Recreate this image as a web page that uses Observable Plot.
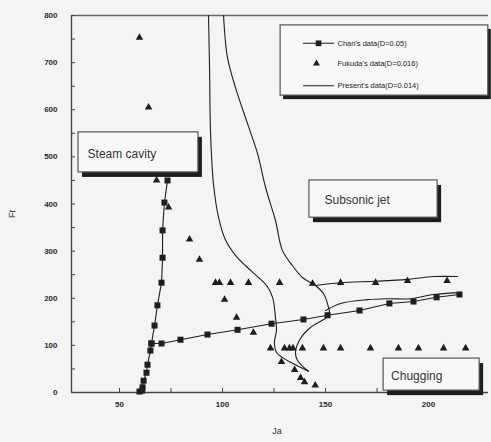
<!DOCTYPE html>
<html><head><meta charset="utf-8">
<script src="https://cdn.jsdelivr.net/npm/d3@7"></script>
<script src="https://cdn.jsdelivr.net/npm/@observablehq/plot@0.6"></script>
<style>
body{margin:0;background:#f4f4f4;}
</style></head><body><div id="chart"></div>
<script>
// Chan's data (D=0.05): vertical branch and horizontal branch [Ja, Fr]
const chenVertical = [[59.7,2],[61.0,4],[61.2,11],[61.7,25],[63.1,42],[63.6,59],[65.0,89],[65.5,104],[67.0,142],[68.4,185],[70.4,233],[70.9,286],[70.9,344],[71.8,403],[73.3,450]];
const chenHorizontal = [[65.5,104],[70.4,104],[79.6,112],[92.7,123],[107.3,133],[123.8,146],[139.3,155],[151,164],[166.5,174],[181,189],[192.7,193],[203.9,202],[215,208]];
// Fukuda's data (D=0.016) [Ja, Fr]
const fukuda = [[59.7,753],[64.1,605],[68,450],[73.8,393],[84,325],[88.8,282],
  [96.6,233],[98.5,233],[103.9,233],[112.6,233],[101,197],[106.8,159],[115,127],
  [127.7,233],[143.7,231],[157.3,233],[174.3,233],[189.8,237],[209,237],
  [123.3,94],[130.1,94],[132.5,94],[134.2,94],[138.8,94],[149,94],[157.3,94],[171.8,94],[185.4,94],[195.1,94],[207.3,94],[218,94],
  [128.6,65],[135,48],[137.9,31],[139.8,22],[145,15]];
// Present's data (D=0.014): boundary curves [Ja, Fr]
const presentA = [[93.2,800],[93.7,690],[94.2,550],[95.6,443],[98.1,371],[101.5,323],[106.3,291],[111.2,269],[117.0,246],[121.4,227],[124.3,202],[125.7,159],[126.2,132],[125.2,106],[126.2,85],[129.1,74],[134.0,62],[141.7,45]];
const presentB = [[100.5,800],[102.4,711],[106.3,647],[112.1,571],[117.0,507],[120.9,435],[125.7,365],[129.1,301],[134.0,269],[138.8,244],[145.1,227],[149.0,210],[151.5,180],[151.9,170],[151.0,161],[142.7,138],[137.9,115],[135.4,85],[136.4,68],[141.7,45]];
const presentC = [[145.1,227],[157.3,233],[174.3,236],[189.8,240],[202.4,246],[214.1,246]];
const presentD = [[150.0,174],[157.3,189],[170.4,197],[180.1,199],[191.3,199],[202.4,208],[214.1,212]];
// ticks
const yTickLabels = [0,100,200,300,400,500,600,700,800];
const yMinorTicks = d3.range(0, 801, 50);
const xTickLabels = [50,100,150,200];
const xMinorTicks = [50,75,100,125,150,175,200,225];
// region annotations
const regions = [
  {label:"Steam cavity", x1:30.1, x2:88.3, y1:467, y2:552, tx:34.5, ty:505},
  {label:"Subsonic jet", x1:142.2, x2:204.4, y1:371, y2:450, tx:149.5, ty:409},
  {label:"Chugging", x1:178.2, x2:224.8, y1:4, y2:72, tx:181.8, ty:34}
];
// legend
const legendLabels = ["Chan's data(D=0.05)", "Fukuda's data(D=0.016)", "Present's data(D=0.014)"];
const legendBox = {x1:128.2, x2:229, y1:630, y2:779};
const legendRows = [741, 698, 651];

const ink = "#1e1e1e";
const toXY = a => a.map(([x,y]) => ({x,y}));

const chart = Plot.plot({
  width: 491, height: 442,
  marginLeft: 71, marginRight: 3, marginTop: 15, marginBottom: 50,
  style: {background: "#f4f4f4", fontFamily: "'Liberation Sans', Arial, sans-serif", color: ink},
  x: {domain: [26.7, 229.1], label: null},
  y: {domain: [0, 800], label: null},
  marks: [
    Plot.ruleY([800], {stroke: "#666", strokeWidth: 1.6}),
    Plot.ruleY([0], {stroke: "#444", strokeWidth: 1.4}),
    Plot.ruleX([26.7], {stroke: "#444", strokeWidth: 1.4}),
    // inward ticks: outward ticks shifted inside
    Plot.axisY({ticks: yMinorTicks, tickSize: 4, dx: 4, tickFormat: () => "", stroke: "#444"}),
    Plot.axisY({ticks: yTickLabels, tickSize: 0, tickPadding: 14, fontSize: 8, fill: "#2a2a2a", fontWeight: "bold"}),
    Plot.axisX({ticks: xMinorTicks, tickSize: 4, dy: -4, tickFormat: () => "", stroke: "#444"}),
    Plot.axisX({ticks: xTickLabels, tickSize: 0, tickPadding: 9, fontSize: 8, fill: "#2a2a2a", fontWeight: "bold"}),
    Plot.text(["Fr"], {frameAnchor: "left", dx: -59, dy: 14, rotate: -90, fontSize: 9, fill: "#333"}),
    Plot.text(["Ja"], {frameAnchor: "bottom", dx: -3, dy: 41, fontSize: 9, fill: "#333"}),
    // present's lines
    Plot.line(toXY(presentA), {x: "x", y: "y", stroke: ink, strokeWidth: 1.1, curve: "catmull-rom"}),
    Plot.line(toXY(presentB), {x: "x", y: "y", stroke: ink, strokeWidth: 1.1, curve: "catmull-rom"}),
    Plot.line(toXY(presentC), {x: "x", y: "y", stroke: ink, strokeWidth: 1.1, curve: "catmull-rom"}),
    Plot.line(toXY(presentD), {x: "x", y: "y", stroke: ink, strokeWidth: 1.1, curve: "catmull-rom"}),
    // Chan's data
    Plot.line(toXY(chenVertical), {x: "x", y: "y", stroke: ink, strokeWidth: 1.1}),
    Plot.line(toXY(chenHorizontal), {x: "x", y: "y", stroke: ink, strokeWidth: 1.1}),
    Plot.dot(toXY(chenVertical), {x: "x", y: "y", symbol: "square", r: 3.4, fill: ink, stroke: null}),
    Plot.dot(toXY(chenHorizontal), {x: "x", y: "y", symbol: "square", r: 3.4, fill: ink, stroke: null}),
    // Fukuda's data
    Plot.dot(toXY(fukuda), {x: "x", y: "y", symbol: "triangle", r: 2.8, fill: ink, stroke: null}),
    // region boxes
    Plot.rect(regions, {x1: "x1", x2: "x2", y1: "y1", y2: "y2", fill: ink, dx: 4, dy: 5}),
    Plot.rect(regions, {x1: "x1", x2: "x2", y1: "y1", y2: "y2", fill: "#f8f8f8", stroke: "#555", strokeWidth: 1.2}),
    Plot.text(regions, {x: "tx", y: "ty", text: "label", textAnchor: "start", fontSize: 12, fill: "#333"}),
    // legend
    Plot.rect([legendBox], {x1: "x1", x2: "x2", y1: "y1", y2: "y2", fill: ink, dx: 3, dy: 4}),
    Plot.rect([legendBox], {x1: "x1", x2: "x2", y1: "y1", y2: "y2", fill: "#f8f8f8", stroke: "#555", strokeWidth: 1.2}),
    Plot.line([{x:139.3,y:legendRows[0]},{x:153.9,y:legendRows[0]}], {x:"x", y:"y", stroke: ink, strokeWidth: 1.1}),
    Plot.dot([{x:146.6,y:legendRows[0]}], {x:"x", y:"y", symbol:"square", r:3.2, fill: ink, stroke: null}),
    Plot.dot([{x:145.6,y:legendRows[1]}], {x:"x", y:"y", symbol:"triangle", r:2.6, fill: ink, stroke: null}),
    Plot.line([{x:139.3,y:legendRows[2]},{x:153.9,y:legendRows[2]}], {x:"x", y:"y", stroke: ink, strokeWidth: 1.1}),
    Plot.text(legendLabels.map((t,i) => ({t, y: legendRows[i]})), {x: () => 155.8, y: "y", text: "t", textAnchor: "start", fontSize: 7.5, fill: "#222"})
  ]
});
document.getElementById("chart").appendChild(chart);
</script>
</body></html>
